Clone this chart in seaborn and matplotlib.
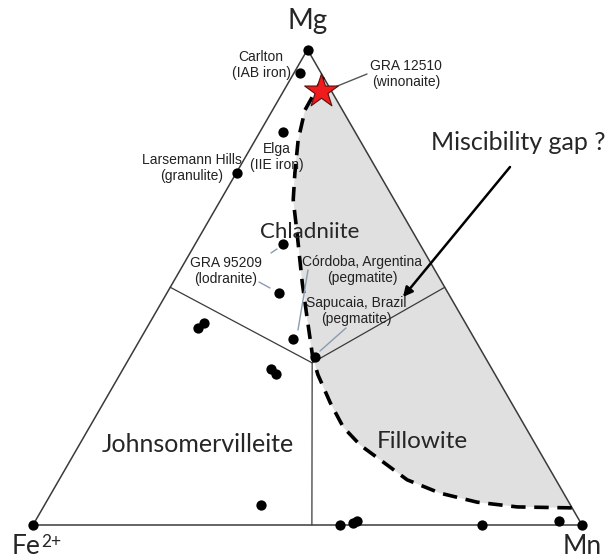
import numpy as np
import pandas as pd
import seaborn as sns
from matplotlib import pyplot as plt

SQ = np.sqrt(3) / 2

# analyses as molar fractions (Mg, Mn), Fe2+ is the rest
pt_mg = [1.0, 0.951, 0.827, 0.740, 0.591, 0.488, 0.391, 0.353, 0.414, 0.425,
         0.328, 0.318, 0.042, 0.0, 0.004, 0.008, 0.0, 0.008, 0.0, 0.0]
pt_mn = [0.0, 0.011, 0.042, 0.001, 0.160, 0.204, 0.278, 0.337, 0.093, 0.099,
         0.269, 0.284, 0.394, 0.559, 0.581, 0.586, 0.818, 0.954, 0.0, 1.0]

# GRA 12510 (winonaite)
star_mg = [0.913]
star_mn = [0.068]

# dashed boundary of the shaded (Mn-rich) field
gap_mg = [0.942, 0.873, 0.810, 0.740, 0.684, 0.614, 0.509, 0.438, 0.353, 0.316,
          0.257, 0.206, 0.168, 0.137, 0.095, 0.067, 0.048, 0.038, 0.036]
gap_mn = [0.058, 0.059, 0.078, 0.107, 0.132, 0.174, 0.236, 0.280, 0.333, 0.361,
          0.413, 0.462, 0.512, 0.564, 0.634, 0.708, 0.785, 0.863, 0.964]

# field boundaries: junction -> edge midpoints / bottom
junc = (0.341, 0.338)
ends = [(0.5, 0.0), (0.5, 0.5), (0.0, 0.508)]


def xy(mg, mn):
    mg = np.asarray(mg, dtype=float)
    mn = np.asarray(mn, dtype=float)
    return mn + mg / 2, mg * SQ


def at(px, py):
    # label placement in picture pixels
    return (px - 33) / 549, (525 - py) / 549


sns.set_theme(style="white")
plt.rcParams["font.family"] = ["Lato", "DejaVu Sans"]

fig = plt.figure(figsize=(6.1, 5.6), dpi=100)
ax = fig.add_axes([0, 0, 1, 1])

# shaded field
gx, gy = xy(gap_mg, gap_mn)
ax.fill(gx, gy, color="#e0e0e0", lw=0, zorder=0)

# triangle outline
tx, ty = xy([1, 0, 0, 1], [0, 0, 1, 0])
ax.plot(tx, ty, color="#3a3a3a", lw=1.1, zorder=1)

# internal field lines
jx, jy = xy(*junc)
for mg, mn in ends:
    ex, ey = xy(mg, mn)
    ax.plot([jx, ex], [jy, ey], color="#3a3a3a", lw=0.9, zorder=1)

gap = pd.DataFrame({"x": gx, "y": gy})
sns.lineplot(data=gap, x="x", y="y", sort=False, color="black", lw=2.6,
             ax=ax, zorder=2).lines[-1].set_dashes([4, 2.4])

px, py = xy(pt_mg, pt_mn)
pts = pd.DataFrame({"x": px, "y": py})
sns.scatterplot(data=pts, x="x", y="y", color="black", s=55, linewidth=0,
                ax=ax, zorder=4)

sx, sy = xy(star_mg, star_mn)
sns.scatterplot(x=sx, y=sy, marker="*", s=650, color="#ee1c1c",
                edgecolor="#5a1010", linewidth=0.8, ax=ax, zorder=5)

ax.set_xlim(-33 / 549, 577 / 549)
ax.set_ylim(-35 / 549, 525 / 549)
ax.axis("off")

# corner labels
ax.text(*at(308, 29), "Mg", fontsize=20, ha="center", va="baseline")
ax.text(*at(12, 559), "Fe", fontsize=19, ha="left", va="bottom")
ax.text(*at(41, 550), "2+", fontsize=12.5, ha="left", va="bottom")
ax.text(*at(582, 559), "Mn", fontsize=19, ha="center", va="bottom")

# field names
ax.text(*at(310, 232), "Chladniite", fontsize=16, ha="center", va="center")
ax.text(*at(198, 445), "Johnsomervilleite", fontsize=18, ha="center", va="center")
ax.text(*at(422, 442), "Fillowite", fontsize=17.5, ha="center", va="center")
ax.text(*at(518, 142), "Miscibility gap ?", fontsize=18, ha="center", va="center")

ax.annotate("", xy=at(403, 297), xytext=at(510, 167),
            arrowprops=dict(arrowstyle="-|>", color="black", lw=1.8,
                            mutation_scale=14, shrinkA=0, shrinkB=0))

# sample labels
small = dict(fontsize=10, family="Liberation Sans", ha="center", va="center",
             linespacing=1.15, color="#222222")
ax.text(*at(261, 65), "Carlton\n(IAB iron)", **small)
ax.text(*at(406, 74), "GRA 12510\n(winonaite)", **small)
ax.text(*at(277, 157), "Elga\n(IIE iron)", **small)
ax.text(*at(192, 168), "Larsemann Hills\n(granulite)", **small)
ax.text(*at(226, 271), "GRA 95209\n(lodranite)", **small)
ax.text(*at(362, 270), "Córdoba, Argentina\n(pegmatite)", **small)
ax.text(*at(356, 311), "Sapucaia, Brazil\n(pegmatite)", **small)

leaders = [((335, 87), (367, 74), "#555555"),
           ((271, 253), (277, 249), "#8a9bb0"),
           ((259, 282), (270, 288), "#8a9bb0"),
           ((308, 270), (298, 330), "#8a9bb0"),
           ((346, 328), (320, 351), "#8a9bb0")]
for a, b, c in leaders:
    (x0, y0), (x1, y1) = at(*a), at(*b)
    ax.plot([x0, x1], [y0, y1], color=c, lw=1.0, zorder=3)

fig.savefig("out.png", dpi=100)
